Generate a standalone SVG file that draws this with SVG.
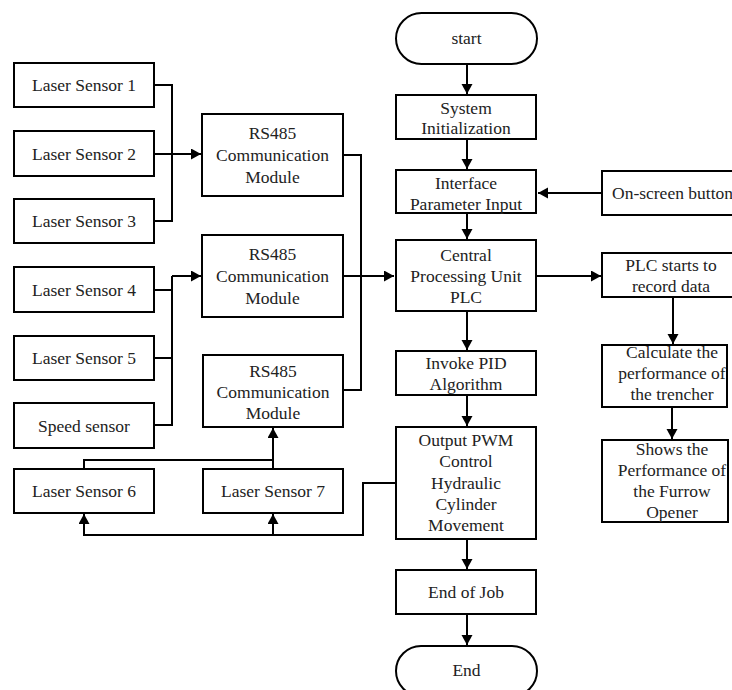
<svg xmlns="http://www.w3.org/2000/svg" width="732" height="690" viewBox="0 0 732 690">
<style>
.b{fill:#fff;stroke:#000;stroke-width:2}
.t{font-size:17.5px;fill:#222;text-anchor:middle}
.c{fill:none;stroke:#000;stroke-width:2}
</style>
<defs>
<marker id="a" markerUnits="userSpaceOnUse" markerWidth="11" markerHeight="12" refX="10" refY="5.5" orient="auto">
<path d="M0,0 L10,5.5 L0,11 z" fill="#000"/>
</marker>
</defs>
<rect width="732" height="690" fill="#fff"/>
<g id="connectors">
<path class="c" d="M154 85 H172 V221 H154"/>
<path class="c" d="M154 154 H201" marker-end="url(#a)"/>
<path class="c" d="M154 290 H172 M154 358 H172 M172 276 V425 H154"/>
<path class="c" d="M172 276 H201" marker-end="url(#a)"/>
<path class="c" d="M343 155 H361 V390 H343"/>
<path class="c" d="M343 276 H394" marker-end="url(#a)"/>
<path class="c" d="M84 469 V460 H273"/>
<path class="c" d="M273 469 V428" marker-end="url(#a)"/>
<path class="c" d="M396 483 H363 V535 H84 V514" marker-end="url(#a)"/>
<path class="c" d="M273 535 V514" marker-end="url(#a)"/>
<path class="c" d="M467 64 V94" marker-end="url(#a)"/>
<path class="c" d="M467 139 V169" marker-end="url(#a)"/>
<path class="c" d="M467 213 V239" marker-end="url(#a)"/>
<path class="c" d="M467 311 V350" marker-end="url(#a)"/>
<path class="c" d="M467 395 V426" marker-end="url(#a)"/>
<path class="c" d="M467 539 V569" marker-end="url(#a)"/>
<path class="c" d="M467 614 V645" marker-end="url(#a)"/>
<path class="c" d="M602 193 H538" marker-end="url(#a)"/>
<path class="c" d="M536 276 H601" marker-end="url(#a)"/>
<path class="c" d="M673 297 V344" marker-end="url(#a)"/>
<path class="c" d="M672 407 V439" marker-end="url(#a)"/>
</g>
<g font-family="Liberation Serif">
<g id="ls1"><rect class="b" x="14" y="63" width="140" height="44"/><text class="t" x="84" y="91">Laser Sensor 1</text></g>
<g id="ls2"><rect class="b" x="14" y="131" width="140" height="45"/><text class="t" x="84" y="160">Laser Sensor 2</text></g>
<g id="ls3"><rect class="b" x="14" y="199" width="140" height="44"/><text class="t" x="84" y="227">Laser Sensor 3</text></g>
<g id="ls4"><rect class="b" x="14" y="267" width="140" height="45"/><text class="t" x="84" y="296">Laser Sensor 4</text></g>
<g id="ls5"><rect class="b" x="14" y="336" width="140" height="44"/><text class="t" x="84" y="364">Laser Sensor 5</text></g>
<g id="speed"><rect class="b" x="14" y="403" width="140" height="45"/><text class="t" x="84" y="432">Speed sensor</text></g>
<g id="ls6"><rect class="b" x="14" y="469" width="140" height="44"/><text class="t" x="84" y="497">Laser Sensor 6</text></g>
<g id="ls7"><rect class="b" x="203" y="469" width="140" height="44"/><text class="t" x="273" y="497">Laser Sensor 7</text></g>
<g id="rs1"><rect class="b" x="202" y="114" width="141" height="82"/><text class="t" x="272.5" y="139">RS485</text><text class="t" x="272.5" y="161">Communication</text><text class="t" x="272.5" y="183">Module</text></g>
<g id="rs2"><rect class="b" x="202" y="235" width="141" height="82"/><text class="t" x="272.5" y="260">RS485</text><text class="t" x="272.5" y="282">Communication</text><text class="t" x="272.5" y="304">Module</text></g>
<g id="rs3"><rect class="b" x="203" y="355" width="140" height="72"/><text class="t" x="273" y="377">RS485</text><text class="t" x="273" y="398">Communication</text><text class="t" x="273" y="419">Module</text></g>
<g id="start"><rect class="b" x="396" y="13" width="141" height="51" rx="25.5"/><text class="t" x="466.5" y="44">start</text></g>
<g id="init"><rect class="b" x="396" y="95" width="140" height="44"/><text class="t" x="466" y="114">System</text><text class="t" x="466" y="134">Initialization</text></g>
<g id="input"><rect class="b" x="396" y="170" width="140" height="43"/><text class="t" x="466" y="189">Interface</text><text class="t" x="466" y="210">Parameter Input</text></g>
<g id="cpu"><rect class="b" x="396" y="240" width="140" height="71"/><text class="t" x="466" y="261">Central</text><text class="t" x="466" y="282">Processing Unit</text><text class="t" x="466" y="303">PLC</text></g>
<g id="pid"><rect class="b" x="396" y="351" width="140" height="44"/><text class="t" x="466" y="369">Invoke PID</text><text class="t" x="466" y="390">Algorithm</text></g>
<g id="pwm"><rect class="b" x="396" y="427" width="140" height="112"/><text class="t" x="466" y="446">Output PWM</text><text class="t" x="466" y="467">Control</text><text class="t" x="466" y="488.5">Hydraulic</text><text class="t" x="466" y="509.5">Cylinder</text><text class="t" x="466" y="531">Movement</text></g>
<g id="endjob"><rect class="b" x="396" y="570" width="140" height="44"/><text class="t" x="466" y="598">End of Job</text></g>
<g id="end"><rect class="b" x="396" y="646" width="141" height="50" rx="25"/><text class="t" x="466.5" y="676">End</text></g>
<g id="button"><rect class="b" x="602" y="171" width="140" height="44"/><text class="t" x="612" y="199" text-anchor="start" style="text-anchor:start">On-screen button</text></g>
<g id="record"><rect class="b" x="602" y="253" width="140" height="44"/><text class="t" x="671" y="271">PLC starts to</text><text class="t" x="671" y="292">record data</text></g>
<g id="calc"><rect class="b" x="602" y="345" width="125" height="62"/><text class="t" x="672" y="358">Calculate the</text><text class="t" x="672" y="379">performance of</text><text class="t" x="672" y="400">the trencher</text></g>
<g id="shows"><rect class="b" x="602" y="440" width="126" height="82"/><text class="t" x="672" y="455">Shows the</text><text class="t" x="672" y="476">Performance of</text><text class="t" x="672" y="497">the Furrow</text><text class="t" x="672" y="518">Opener</text></g>
</g>
</svg>
